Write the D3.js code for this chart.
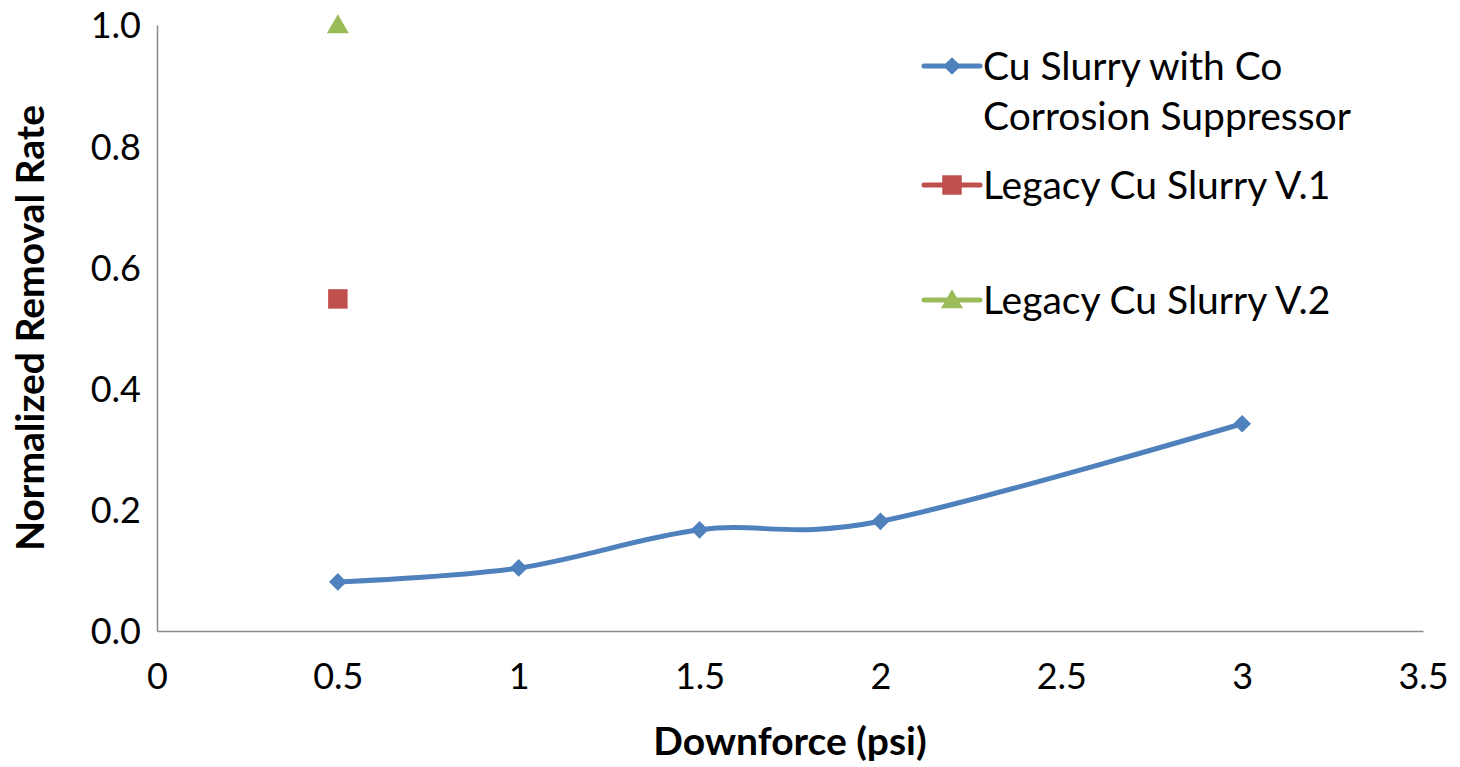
<!DOCTYPE html>
<html>
<head>
<meta charset="utf-8">
<script src="https://cdn.jsdelivr.net/npm/d3@7"></script>
<style>
  html, body { margin: 0; padding: 0; background: #fff; }
  svg { display: block; font-family: Lato, "Open Sans", sans-serif; }
</style>
</head>
<body>
<svg id="chart" width="1460" height="767"></svg>
<script>
// ---- data ----
const downforce = [0.5, 1, 1.5, 2, 3];
const cuCoRate = [0.081, 0.104, 0.167, 0.181, 0.342];
const legacyV1X = [0.5];
const legacyV1Rate = [0.548];
const legacyV2X = [0.5];
const legacyV2Rate = [1.0];

const xTicks = [0, 0.5, 1, 1.5, 2, 2.5, 3, 3.5];
const yTicks = [0, 0.2, 0.4, 0.6, 0.8, 1.0];

const seriesNames = ["Cu Slurry with Co|Corrosion Suppressor", "Legacy Cu Slurry V.1", "Legacy Cu Slurry V.2"];
const colors = ["#4F81BD", "#C0504D", "#9BBB59"];

// ---- layout ----
const svg = d3.select("#chart");
const plotLeft = 157, plotRight = 1423, plotTop = 25, plotBottom = 631;

const x = d3.scaleLinear().domain([0, 3.5]).range([plotLeft, plotRight]);
const y = d3.scaleLinear().domain([0, 1]).range([plotBottom, plotTop]);

// axes
const xAxis = svg.append("g")
  .attr("transform", `translate(0,${plotBottom})`)
  .call(d3.axisBottom(x).tickValues(xTicks).tickSize(0).tickPadding(32).tickFormat(d => d3.format("")(d)));
const yAxis = svg.append("g")
  .attr("transform", `translate(${plotLeft},0)`)
  .call(d3.axisLeft(y).tickValues(yTicks).tickSize(0).tickPadding(16).tickFormat(d3.format(".1f")));

[xAxis, yAxis].forEach(a => {
  a.select(".domain").attr("stroke", "#898989").attr("stroke-width", 1.5);
  a.selectAll("text").attr("fill", "#000").style("font-size", "36px").style("font-family", "Lato, 'Open Sans', sans-serif");
});
yAxis.selectAll("text").attr("dy", "0.36em");

// axis titles
svg.append("text")
  .attr("x", 790)
  .attr("y", 755)
  .attr("text-anchor", "middle")
  .style("font-size", "39px")
  .style("font-weight", "bold")
  .text("Downforce (psi)");

svg.append("text")
  .attr("transform", `translate(44,${(plotTop + plotBottom) / 2}) rotate(-90)`)
  .attr("text-anchor", "middle")
  .style("font-size", "39px")
  .style("font-weight", "bold")
  .text("Normalized Removal Rate");

// ---- marks ----
const line = d3.line()
  .x((d, i) => x(downforce[i]))
  .y(d => y(d))
  .curve(d3.curveCatmullRom.alpha(0));

svg.append("path")
  .datum(cuCoRate)
  .attr("d", line)
  .attr("fill", "none")
  .attr("stroke", colors[0])
  .attr("stroke-width", 5);

const diamond = d3.symbol().type(d3.symbolDiamond2).size(200);
const square = d3.symbol().type(d3.symbolSquare).size(380);
const triangle = d3.symbol().type(d3.symbolTriangle).size(210);

svg.selectAll(".pt-cu")
  .data(cuCoRate)
  .enter().append("path")
  .attr("class", "pt-cu")
  .attr("transform", (d, i) => `translate(${x(downforce[i])},${y(d)})`)
  .attr("d", diamond)
  .attr("fill", colors[0]);

svg.selectAll(".pt-v1")
  .data(legacyV1Rate)
  .enter().append("path")
  .attr("class", "pt-v1")
  .attr("transform", (d, i) => `translate(${x(legacyV1X[i])},${y(d)})`)
  .attr("d", square)
  .attr("fill", colors[1]);

svg.selectAll(".pt-v2")
  .data(legacyV2Rate)
  .enter().append("path")
  .attr("class", "pt-v2")
  .attr("transform", (d, i) => `translate(${x(legacyV2X[i])},${y(d) + 2})`)
  .attr("d", triangle)
  .attr("fill", colors[2]);

// ---- legend ----
const legendRows = [66, 185, 300];
const symbols = [diamond, square, triangle];

const legend = svg.append("g");
seriesNames.forEach((name, i) => {
  const g = legend.append("g").attr("transform", `translate(924,${legendRows[i]})`);
  g.append("line")
    .attr("x1", 0).attr("x2", 56)
    .attr("stroke", colors[i]).attr("stroke-width", 5).attr("stroke-linecap", "round");
  g.append("path")
    .attr("transform", `translate(28,${i === 2 ? 2 : 0})`)
    .attr("d", symbols[i])
    .attr("fill", colors[i]);
  const t = g.append("text")
    .attr("x", 59)
    .style("font-size", "39px");
  name.split("|").forEach((part, j) => {
    t.append("tspan").attr("x", 59).attr("dy", j === 0 ? "0.35em" : "50px").text(part);
  });
});
</script>
</body>
</html>
